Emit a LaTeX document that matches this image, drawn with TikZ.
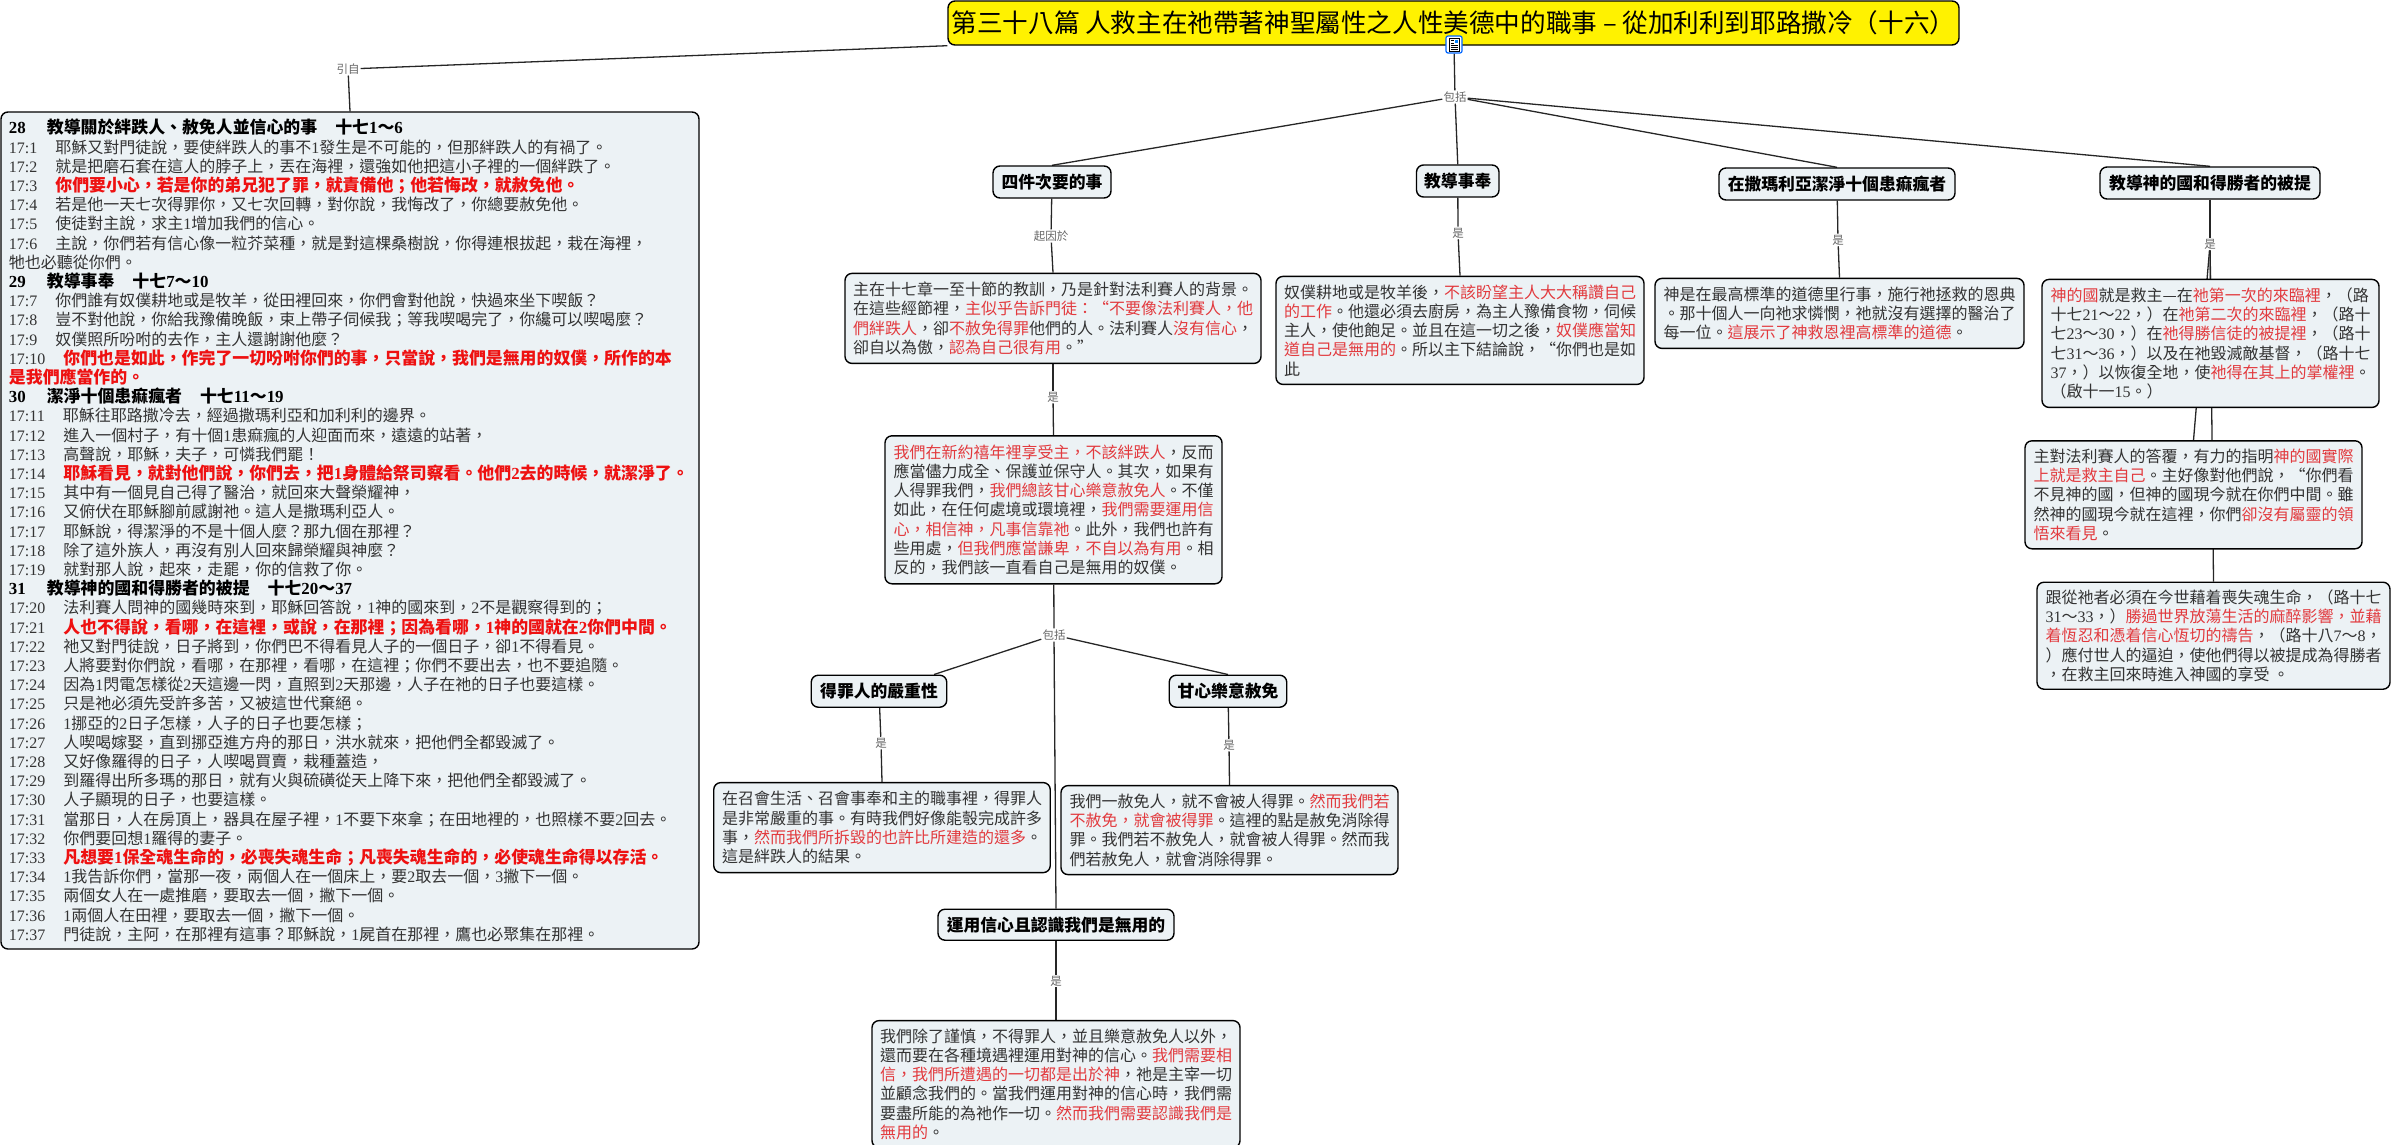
\documentclass[tikz,border=0pt]{standalone}
\usepackage{fontspec}
\setmainfont{Noto Sans CJK TC}
\newfontfamily\latinfont{Liberation Serif}
\usetikzlibrary{positioning, backgrounds}

\definecolor{boxfill}{HTML}{ECF2F5}
\definecolor{softred}{HTML}{E23A3E}
\definecolor{strongred}{HTML}{EE1111}

\begingroup
\catcode`\,=\active \catcode`\?=\active
\catcode`\(=\active \catcode`\)=\active \catcode`\~=\active
\gdef\zhpunct{%
    \catcode`\,=\active \catcode`\?=\active
    \catcode`\(=\active \catcode`\)=\active \catcode`\~=\active
    \def,{^^^^ff0c}\def?{^^^^ff1f}%
    \def({^^^^ff08}\def){^^^^ff09}\def~{^^^^ff5e}}
\endgroup

\newcommand{\zhcolon}{^^^^ff1a}
\newcommand{\zhsemi}{^^^^ff1b}
\newcommand{\zhbang}{^^^^ff01}
\newcommand{\nm}[1]{{\latinfont #1}}
\newcommand{\redtxt}[1]{\textcolor{softred}{#1}}
\newcommand{\openq}{\makebox[16pt][r]{“}}
\newcommand{\boldsize}{\fontsize{16.9}{19.2}\selectfont\bfseries}
\newcommand{\boldred}[1]{{\boldsize\color{strongred}#1}}
\newcommand{\verseno}[1]{\mbox{\nm{#1}\hspace{18pt}}}
\newcommand{\secthead}[3]{{\boldsize\color{black}\mbox{\nm{#1}\hspace{21pt}}#2\mbox{\hspace{18pt}}十七#3}}

\begin{document}
\begin{tikzpicture}[
    x=1pt, y=-1pt,
    box/.style={rectangle, draw=black, line width=1.4pt, rounded corners=7pt, fill=boxfill, align=left, inner sep=0pt, text=black!80, font=\fontsize{16}{19.2}\selectfont, execute at begin node=\zhpunct},
    concept/.style={box, text=black, minimum height=32pt, font=\fontsize{16.8}{19.2}\selectfont\bfseries},
    linklabel/.style={inner sep=1pt, text=black!60, font=\fontsize{11.5}{13}\selectfont},
    conn/.style={draw=black!85, line width=1.3pt}
]
    \useasboundingbox (0,0) rectangle (2391,1144);

    \node[box, fill=yellow, text=black, minimum width=1011pt, minimum height=44pt, font=\fontsize{25.6}{28}\selectfont] (title) at (1453.5,23) {第三十八篇 人救主在祂帶著神聖屬性之人性美德中的職事 – 從加利利到耶路撒冷(十六)};

    \node[draw=blue!60!cyan, line width=1.2pt, rounded corners=2pt, fill=white, minimum width=16pt, minimum height=17pt, inner sep=0pt] (docicon) at (1454,44.5) {};
    \begin{scope}[shift={(docicon.center)}]
        \draw[line width=0.8pt, fill=white] (-5,-6.5) rectangle (5,6.5);
        \fill[blue!50!cyan] (0.5,-5) rectangle (4,-1.5);
        \draw[line width=0.8pt] (-3.5,-4) -- (-0.5,-4) (-3.5,-1.5) -- (-0.5,-1.5) (-3.5,1) -- (3.5,1) (-3.5,3) -- (3.5,3) (-3.5,5) -- (3.5,5);
    \end{scope}

    \node[linklabel] (cite) at (348,69) {引自};
    \node[linklabel] (includes) at (1455,97) {包括};

    \node[box, text width=682pt, minimum width=698pt, minimum height=837pt] (scripture) at (350,530.5) {
        \secthead{28}{教導關於絆跌人、赦免人並信心的事}{\nm{1}~\nm{6}}\\
        \verseno{17:1}耶穌又對門徒說,要使絆跌人的事不\nm{1}發生是不可能的,但那絆跌人的有禍了。\\
        \verseno{17:2}就是把磨石套在這人的脖子上,丟在海裡,還強如他把這小子裡的一個絆跌了。\\
        \verseno{17:3}\boldred{你們要小心,若是你的弟兄犯了罪,就責備他\zhsemi 他若悔改,就赦免他。}\\
        \verseno{17:4}若是他一天七次得罪你,又七次回轉,對你說,我悔改了,你總要赦免他。\\
        \verseno{17:5}使徒對主說,求主\nm{1}增加我們的信心。\\
        \verseno{17:6}主說,你們若有信心像一粒芥菜種,就是對這棵桑樹說,你得連根拔起,栽在海裡,\\
        牠也必聽從你們。\\
        \secthead{29}{教導事奉}{\nm{7}~\nm{10}}\\
        \verseno{17:7}你們誰有奴僕耕地或是牧羊,從田裡回來,你們會對他說,快過來坐下喫飯?\\
        \verseno{17:8}豈不對他說,你給我豫備晚飯,束上帶子伺候我\zhsemi 等我喫喝完了,你纔可以喫喝麼?\\
        \verseno{17:9}奴僕照所吩咐的去作,主人還謝謝他麼?\\
        \verseno{17:10}\boldred{你們也是如此,作完了一切吩咐你們的事,只當說,我們是無用的奴僕,所作的本}\\
        \boldred{是我們應當作的。}\\
        \secthead{30}{潔淨十個患痲瘋者}{\nm{11}~\nm{19}}\\
        \verseno{17:11}耶穌往耶路撒冷去,經過撒瑪利亞和加利利的邊界。\\
        \verseno{17:12}進入一個村子,有十個\nm{1}患痲瘋的人迎面而來,遠遠的站著,\\
        \verseno{17:13}高聲說,耶穌,夫子,可憐我們罷\zhbang\\
        \verseno{17:14}\boldred{耶穌看見,就對他們說,你們去,把\nm{1}身體給祭司察看。他們\nm{2}去的時候,就潔淨了。}\\
        \verseno{17:15}其中有一個見自己得了醫治,就回來大聲榮耀神,\\
        \verseno{17:16}又俯伏在耶穌腳前感謝祂。這人是撒瑪利亞人。\\
        \verseno{17:17}耶穌說,得潔淨的不是十個人麼?那九個在那裡?\\
        \verseno{17:18}除了這外族人,再沒有別人回來歸榮耀與神麼?\\
        \verseno{17:19}就對那人說,起來,走罷,你的信救了你。\\
        \secthead{31}{教導神的國和得勝者的被提}{\nm{20}~\nm{37}}\\
        \verseno{17:20}法利賽人問神的國幾時來到,耶穌回答說,\nm{1}神的國來到,\nm{2}不是觀察得到的\zhsemi\\
        \verseno{17:21}\boldred{人也不得說,看哪,在這裡,或說,在那裡\zhsemi 因為看哪,\nm{1}神的國就在\nm{2}你們中間。}\\
        \verseno{17:22}祂又對門徒說,日子將到,你們巴不得看見人子的一個日子,卻\nm{1}不得看見。\\
        \verseno{17:23}人將要對你們說,看哪,在那裡,看哪,在這裡\zhsemi 你們不要出去,也不要追隨。\\
        \verseno{17:24}因為\nm{1}閃電怎樣從\nm{2}天這邊一閃,直照到\nm{2}天那邊,人子在祂的日子也要這樣。\\
        \verseno{17:25}只是祂必須先受許多苦,又被這世代棄絕。\\
        \verseno{17:26}\nm{1}挪亞的\nm{2}日子怎樣,人子的日子也要怎樣\zhsemi\\
        \verseno{17:27}人喫喝嫁娶,直到挪亞進方舟的那日,洪水就來,把他們全都毀滅了。\\
        \verseno{17:28}又好像羅得的日子,人喫喝買賣,栽種蓋造,\\
        \verseno{17:29}到羅得出所多瑪的那日,就有火與硫磺從天上降下來,把他們全都毀滅了。\\
        \verseno{17:30}人子顯現的日子,也要這樣。\\
        \verseno{17:31}當那日,人在房頂上,器具在屋子裡,\nm{1}不要下來拿\zhsemi 在田地裡的,也照樣不要\nm{2}回去。\\
        \verseno{17:32}你們要回想\nm{1}羅得的妻子。\\
        \verseno{17:33}\boldred{凡想要\nm{1}保全魂生命的,必喪失魂生命\zhsemi 凡喪失魂生命的,必使魂生命得以存活。}\\
        \verseno{17:34}\nm{1}我告訴你們,當那一夜,兩個人在一個床上,要\nm{2}取去一個,\nm{3}撇下一個。\\
        \verseno{17:35}兩個女人在一處推磨,要取去一個,撇下一個。\\
        \verseno{17:36}\nm{1}兩個人在田裡,要取去一個,撇下一個。\\
        \verseno{17:37}門徒說,主阿,在那裡有這事?耶穌說,\nm{1}屍首在那裡,鷹也必聚集在那裡。
    };

    \node[concept, minimum width=118pt] (minor) at (1052,182) {四件次要的事};
    \node[concept, minimum width=82.5pt] (service) at (1457.75,181) {教導事奉};
    \node[concept, minimum width=236pt] (lepers) at (1837,184) {在撒瑪利亞潔淨十個患痲瘋者};
    \node[concept, minimum width=220pt] (rapture) at (2210,183) {教導神的國和得勝者的被提};

    \node[linklabel] (causedby) at (1051,236) {起因於};
    \node[linklabel] (isservice) at (1458,233) {是};
    \node[linklabel] (islepers) at (1838,240) {是};
    \node[linklabel] (israpture) at (2210,244) {是};

    \node[box, minimum width=416pt, minimum height=90pt, below=74pt of minor, xshift=1pt] (pharisee) {
        主在十七章一至十節的教訓,乃是針對法利賽人的背景。\\
        在這些經節裡,\redtxt{主似乎告訴門徒\zhcolon\openq 不要像法利賽人,他}\\
        \redtxt{們絆跌人},卻\redtxt{不赦免得罪}他們的人。法利賽人\redtxt{沒有信心},\\
        卻自以為傲,\redtxt{認為自己很有用}。”
    };

    \node[box, minimum width=368pt, minimum height=108pt, below=78pt of service, xshift=2.25pt] (slave) {
        奴僕耕地或是牧羊後,\redtxt{不該盼望主人大大稱讚自己}\\
        \redtxt{的工作}。他還必須去廚房,為主人豫備食物,伺候\\
        主人,使他飽足。並且在這一切之後,\redtxt{奴僕應當知}\\
        \redtxt{道自己是無用的}。所以主下結論說,\openq 你們也是如\\
        此
    };

    \node[box, minimum width=369pt, minimum height=70pt, below=77pt of lepers, xshift=2.5pt] (morals) {
        神是在最高標準的道德里行事,施行祂拯救的恩典\\
        。那十個人一向祂求憐憫,祂就沒有選擇的醫治了\\
        每一位。\redtxt{這展示了神救恩裡高標準的道德}。
    };

    \node[box, minimum width=337pt, minimum height=128pt, below=79pt of rapture, xshift=0.5pt] (kingdom) {
        \redtxt{神的國}就是救主—在\redtxt{祂第一次的來臨裡},(路\\
        十七\nm{21}~\nm{22},)在\redtxt{祂第二次的來臨裡},(路十\\
        七\nm{23}~\nm{30},)在\redtxt{祂得勝信徒的被提裡},(路十\\
        七\nm{31}~\nm{36},)以及在祂毀滅敵基督,(路十七\\
        \nm{37},)以恢復全地,使\redtxt{祂得在其上的掌權裡}。\\
        (啟十一\nm{15}。)
    };

    \node[box, minimum width=337pt, minimum height=108pt, below=32pt of kingdom, xshift=-17pt] (answer) {
        主對法利賽人的答覆,有力的指明\redtxt{神的國實際}\\
        \redtxt{上就是救主自己}。主好像對他們說,\openq 你們看\\
        不見神的國,但神的國現今就在你們中間。雖\\
        然神的國現今就在這裡,你們\redtxt{卻沒有屬靈的領}\\
        \redtxt{悟來看見}。
    };

    \node[box, minimum width=353pt, minimum height=107pt, below=32pt of answer, xshift=20pt] (followers) {
        跟從祂者必須在今世藉着喪失魂生命,(路十七\\
        \nm{31}~\nm{33},)\redtxt{勝過世界放蕩生活的麻醉影響,並藉}\\
        \redtxt{着恆忍和憑着信心恆切的禱告},(路十八\nm{7}~\nm{8},\\
        )應付世人的逼迫,使他們得以被提成為得勝者\\
        ,在救主回來時進入神國的享受 。
    };

    \node[box, minimum width=337pt, minimum height=148pt, below=71pt of pharisee, xshift=0.5pt] (jubilee) {
        \redtxt{我們在新約禧年裡享受主,不該絆跌人},反而\\
        應當儘力成全、保護並保守人。其次,如果有\\
        人得罪我們,\redtxt{我們總該甘心樂意赦免人}。不僅\\
        如此,在任何處境或環境裡,\redtxt{我們需要運用信}\\
        \redtxt{心,相信神,凡事信靠祂}。此外,我們也許有\\
        些用處,\redtxt{但我們應當謙卑,不自以為有用}。相\\
        反的,我們該一直看自己是無用的奴僕。
    };

    \node[linklabel] (ispharisee) at (1053,397) {是};
    \node[linklabel] (includesmore) at (1054,635) {包括};

    \node[concept, minimum width=135.5pt, below=90pt of jubilee, xshift=-174.5pt] (offend) {得罪人的嚴重性};
    \node[concept, minimum width=117.5pt, below=90pt of jubilee, xshift=174.5pt] (forgive) {甘心樂意赦免};

    \node[linklabel] (isoffend) at (881,743) {是};
    \node[linklabel] (isforgive) at (1229,745) {是};

    \node[box, minimum width=336.5pt, minimum height=90pt, below=74pt of offend, xshift=3pt] (stumble) {
        在召會生活、召會事奉和主的職事裡,得罪人\\
        是非常嚴重的事。有時我們好像能彀完成許多\\
        事,\redtxt{然而我們所拆毀的也許比所建造的還多}。\\
        這是絆跌人的結果。
    };

    \node[box, minimum width=337pt, minimum height=89pt, below=77pt of forgive, xshift=1.5pt] (release) {
        我們一赦免人,就不會被人得罪。\redtxt{然而我們若}\\
        \redtxt{不赦免,就會被得罪}。這裡的點是赦免消除得\\
        罪。我們若不赦免人,就會被人得罪。然而我\\
        們若赦免人,就會消除得罪。
    };

    \node[concept, minimum width=236pt, minimum height=31pt, below=324pt of jubilee, xshift=2.5pt] (faith) {運用信心且認識我們是無用的};
    \node[linklabel] (isfaith) at (1056,981) {是};

    \node[box, minimum width=368pt, minimum height=127pt, below=79pt of faith] (useless) {
        我們除了謹慎,不得罪人,並且樂意赦免人以外,\\
        還而要在各種境遇裡運用對神的信心。\redtxt{我們需要相}\\
        \redtxt{信,我們所遭遇的一切都是出於神},祂是主宰一切\\
        並顧念我們的。當我們運用對神的信心時,我們需\\
        要盡所能的為祂作一切。\redtxt{然而我們需要認識我們是}\\
        \redtxt{無用的}。
    };

    \begin{scope}[on background layer]
        \draw[conn] (title.south west) -- (cite);
        \draw[conn] (cite) -- (scripture.north);
        \draw[conn] (docicon) -- (includes);
        \draw[conn] (includes) -- (minor.north);
        \draw[conn] (includes) -- (service.north);
        \draw[conn] (includes) -- (lepers.north);
        \draw[conn] (includes) -- (rapture.north);
        \draw[conn] (minor) -- (causedby);
        \draw[conn] (causedby) -- (pharisee.north);
        \draw[conn] (service) -- (isservice);
        \draw[conn] (isservice) -- (slave.north);
        \draw[conn] (lepers) -- (islepers);
        \draw[conn] (islepers) -- (morals.north);
        \draw[conn] (rapture) -- (israpture);
        \draw[conn] (israpture) -- (kingdom.north);
        \draw[conn] (israpture) -- (answer.north);
        \draw[conn] (israpture) -- (followers.north);
        \draw[conn] (pharisee) -- (ispharisee);
        \draw[conn] (ispharisee) -- (jubilee.north);
        \draw[conn] (jubilee) -- (includesmore);
        \draw[conn] (includesmore) -- ([xshift=55pt]offend.north);
        \draw[conn] (includesmore) -- (forgive.north);
        \draw[conn] (includesmore) -- (faith.north);
        \draw[conn] (offend) -- (isoffend);
        \draw[conn] (isoffend) -- (stumble.north);
        \draw[conn] (forgive) -- (isforgive);
        \draw[conn] (isforgive) -- (release.north);
        \draw[conn] (faith) -- (isfaith);
        \draw[conn] (isfaith) -- (useless.north);
    \end{scope}

\end{tikzpicture}
\end{document}
